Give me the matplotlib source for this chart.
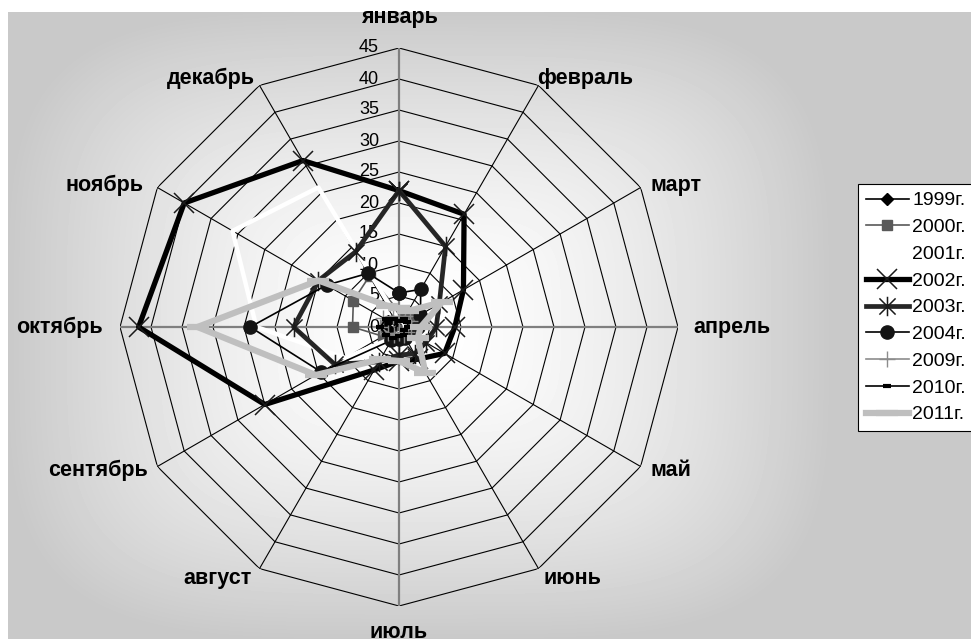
import numpy as np
import matplotlib
matplotlib.use("Agg")
import matplotlib.pyplot as plt
from matplotlib.path import Path

plt.rcParams['font.family'] = ['Liberation Sans', 'DejaVu Sans']

# ---------------- data ----------------
months = ['январь', 'февраль', 'март', 'апрель', 'май', 'июнь',
          'июль', 'август', 'сентябрь', 'октябрь', 'ноябрь', 'декабрь']
r_ticks = [0, 5, 10, 15, 20, 25, 30, 35, 40, 45]

y1999 = [1, 1, 1.5, 1, 0.5, 0.5, 0.5, 1, 1.5, 2.5, 2, 1.5]
y2000 = [2.5, 2.5, 2, 1.5, 1, 1, 1.5, 2, 3, 7.5, 8.5, 9.5]
y2001 = [1, 1, 1, 1, 1, 1, 1, 2, 10, 23, 31, 26]
y2002 = [22, 21, 12, 9, 8.5, 6, 5.5, 8, 25, 42, 40, 31]
y2003 = [22, 15, 7.5, 6, 5, 5, 4.5, 6.5, 12, 17, 15, 14]
y2004 = [5.5, 7, 4, 3, 2, 2, 2, 2.5, 14.5, 24, 13.5, 10]
y2009 = [1.5, 2, 2, 2, 1.5, 1.5, 1, 1.5, 2, 3, 3, 2]
y2010 = [1, 1.5, 1.5, 1.5, 1, 1.5, 1.5, 2, 2.5, 3, 2.5, 1.5]
y2011 = [3, 3, 8, 3.5, 3.5, 8.5, 5.5, 6, 15.5, 32.5, 15, 4]

series_names = ['1999г.', '2000г.', '2001г.', '2002г.', '2003г.',
                '2004г.', '2009г.', '2010г.', '2011г.']
series_vals = [y1999, y2000, y2001, y2002, y2003, y2004, y2009, y2010, y2011]

# ---------------- figure ----------------
W, H = 971, 639
fig = plt.figure(figsize=(W / 100, H / 100), dpi=100)
fig.patch.set_facecolor('white')

# background with gradient
gray = 201 / 255
ax_bg = fig.add_axes([0, 0, 1, 1], zorder=-5)
yy, xx = np.mgrid[0:H, 0:W] + 0.5
img = np.full((H, W), gray)
cx, cy, hw, hh = 419, 325, 411, 314
t = ((np.abs(xx - cx) / hw) ** 4 + (np.abs(yy - cy) / hh) ** 4) ** 0.25
t = np.clip(t, 0, 1)
val = 1 - (1 - gray) * t ** 1.5
inside = (xx >= 8) & (xx <= 830) & (yy >= 12)
img[inside] = val[inside]
img[yy < 12] = 1
img[xx < 8] = 1
ax_bg.imshow(img, cmap='gray', vmin=0, vmax=1, extent=(0, W, H, 0),
             aspect='auto', interpolation='bilinear')
ax_bg.set_xlim(0, W)
ax_bg.set_ylim(H, 0)
ax_bg.axis('off')

# polar axes
cxp, cyp, R = 399, 327, 279
ax = fig.add_axes([(cxp - R) / W, (H - cyp - R) / H, 2 * R / W, 2 * R / H],
                  projection='polar')
ax.patch.set_alpha(0)
ax.set_theta_zero_location('N')
ax.set_theta_direction(-1)
ax.set_ylim(0, 45)
ax.set_xticks([])
ax.set_yticks([])
ax.grid(False)
ax.spines['polar'].set_visible(False)

n = len(months)
theta = np.deg2rad(np.arange(n) * 360 / n)
theta_c = np.append(theta, theta[0])

# polygon grid
for rv in r_ticks[1:]:
    ax.plot(theta_c, [rv] * (n + 1), color='black', lw=0.8, zorder=1)
for i, th in enumerate(theta):
    if i % 3 == 0:
        ax.plot([th, th], [0, 45], color='#7f7f7f', lw=1.6, zorder=1.1)
    else:
        ax.plot([th, th], [0, 45], color='black', lw=0.8, zorder=1)

# radial tick labels
for rv in r_ticks:
    ax.annotate(str(rv), xy=(0, rv), xytext=(-20, 0), textcoords='offset pixels',
                ha='right', va='center', fontsize=13, annotation_clip=False,
                zorder=3)

# month labels
offsets = [(0, 30, 'center'), (-1, 7, 'left'), (10, 2, 'left'), (15, 0, 'left'),
           (10, -3.5, 'left'), (5, -9.5, 'left'), (0, -27, 'center'),
           (-7.5, -9.5, 'right'), (-9.5, -3.5, 'right'), (-17, 0, 'right'),
           (-14, 2.5, 'right'), (-4.5, 7, 'right')]
for th, m, (dx, dy, ha) in zip(theta, months, offsets):
    ax.annotate(m, xy=(th, 45), xytext=(dx, dy), textcoords='offset pixels',
                ha=ha, va='center', fontsize=15.5, fontweight='bold',
                annotation_clip=False)

# markers
ast = Path([(-1, -1), (1, 1), (-1, 1), (1, -1), (0, -1.2), (0, 1.2)],
           [Path.MOVETO, Path.LINETO] * 3)

styles = [
    dict(color='black', lw=1.2, marker='D', ms=6, mfc='black', mec='black'),
    dict(color='#595959', lw=1.2, marker='s', ms=6.5, mfc='#595959', mec='#595959'),
    dict(color='white', lw=3.2, marker=None),
    dict(color='black', lw=3.8, marker='x', ms=14, mew=1.1, mec='#1a1a1a'),
    dict(color='#262626', lw=3.4, marker=ast, ms=14, mew=1.1, mec='#1a1a1a'),
    dict(color='black', lw=1.2, marker='o', ms=9.5, mfc='#141414', mec='#141414'),
    dict(color='#8c8c8c', lw=1.2, marker='+', ms=11, mew=1.0, mec='#8c8c8c'),
    dict(color='black', lw=1.2, marker='_', ms=6, mew=3, mec='black'),
    dict(color='#bfbfbf', lw=4.5, marker='_', ms=16, mew=4.5, mec='#bfbfbf'),
]

handles = []
for k, (name, vals, st) in enumerate(zip(series_names, series_vals, styles)):
    v = np.append(vals, vals[0])
    h, = ax.plot(theta_c, v, label=name, zorder=4 + k * 0.1, clip_on=False, **st)
    handles.append(h)

leg = fig.legend(handles=handles, loc='upper left',
                 bbox_to_anchor=(858 / W, 1 - 184 / H), borderaxespad=0,
                 fontsize=14, frameon=True, fancybox=False, framealpha=1,
                 edgecolor='black', handlelength=2.2, handletextpad=0.2,
                 labelspacing=0.47, borderpad=0.4)
leg.get_frame().set_linewidth(0.8)

fig.savefig('out.png', dpi=100, facecolor=fig.get_facecolor())
